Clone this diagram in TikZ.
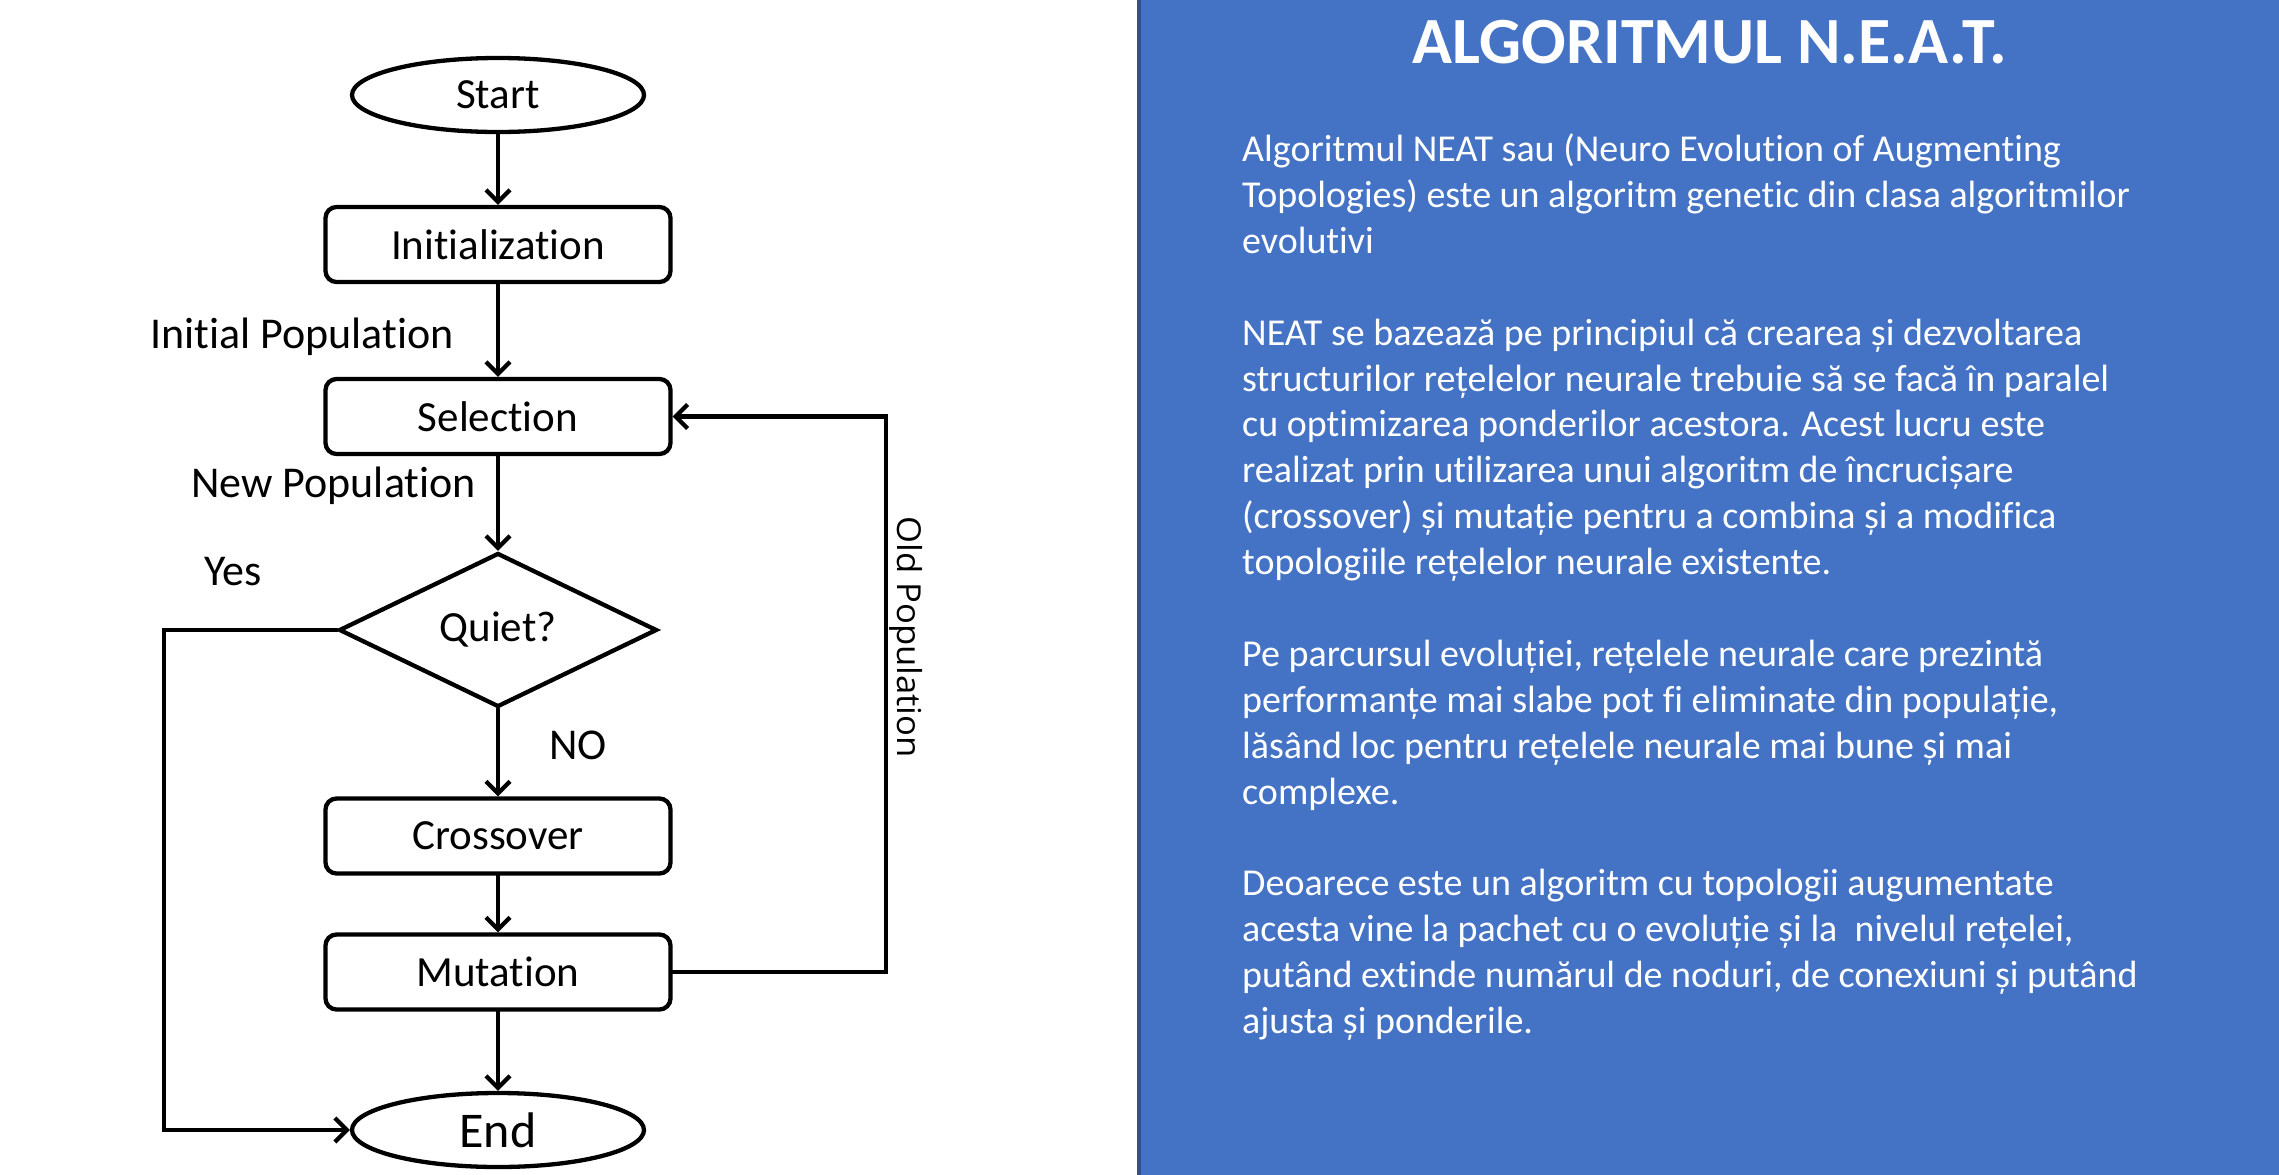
\documentclass[tikz,border=0pt]{standalone}
\usepackage{fontspec}
\usepackage{graphicx}
\setmainfont{Carlito}[Ligatures=NoCommon]
\newfontfamily\oldfont{Open Sans}
\usetikzlibrary{shapes.geometric,arrows.meta}
\definecolor{panelblue}{HTML}{4472C4}
\definecolor{paneledge}{HTML}{2F528F}
\tikzset{
  flow/.style={draw=black, line width=4.3pt, font=\fontsize{43}{50}\selectfont, inner sep=0pt},
  term/.style={flow, ellipse, minimum width=292pt, minimum height=74pt},
  procbox/.style={flow, rectangle, rounded corners=11pt, minimum width=345pt, minimum height=75pt},
  decision/.style={flow, diamond, aspect=2, minimum width=318pt, minimum height=154pt},
  lbl/.style={font=\fontsize{44}{50}\selectfont, inner sep=0pt},
  conn/.style={line width=4.3pt, line cap=round, line join=miter, -{Straight Barb[length=12pt,width=24pt,line width=4.3pt]}},
  body/.style={anchor=base west, inner sep=0pt, text=white, font=\fontsize{38}{45.9}\selectfont},
  titlestyle/.style={anchor=base, inner sep=0pt, text=white, font=\fontsize{66}{70}\selectfont\bfseries}
}
\begin{document}
\begin{tikzpicture}[x=1pt,y=-1pt]
\useasboundingbox (0,0) rectangle (2279,1175);
\fill[white] (0,0) rectangle (2279,1175);
% right panel
\fill[panelblue] (1138,0) rectangle (2279,1175);
\fill[paneledge] (1137,0) rectangle (1141,1175);

% flowchart nodes
\node[term] (start) at (498,95) {Start};
\node[procbox] (init) at (498,244.5) {Initialization};
\node[procbox] (sel) at (498,416.5) {Selection};
\node[decision] (quiet) at (498,630) {Quiet?};
\node[procbox] (cross) at (498,836) {Crossover};
\node[procbox] (mut) at (498,972) {Mutation};
\node[term, font=\fontsize{50}{56}\selectfont] (end) at (498,1130) {End};

% labels
\node[lbl] (lip) at (302,337) {Initial Population};
\node[lbl] (lnp) at (333.5,486) {New Population};
\node[lbl] (lyes) at (233,572) {Yes};
\node[lbl] (lno) at (578,745) {NO};
\node[inner sep=0pt, rotate=-90, font=\oldfont\fontsize{33}{38}\selectfont] (lold) at (906,637) {\scalebox{1.05}[1]{Old Population}};

% connectors
\coordinate (yesc) at (164,630);
\coordinate (oldc) at (886,972);
\draw[conn] (start) -- (init);
\draw[conn] (init) -- (sel);
\draw[conn] (sel) -- (quiet);
\draw[conn] (quiet) -- (cross);
\draw[conn] (cross) -- (mut);
\draw[conn] (mut) -- (end);
\draw[conn] (quiet.west) -- (yesc) |- (end.west);
\draw[conn] (mut.east) -- (oldc) |- (sel.east);

% right panel text
\node[titlestyle] (title) at (1710,63) {ALGORITMUL N.E.A.T.};
\node[body] (t1) at (1242,161.5) {Algoritmul NEAT sau (Neuro Evolution of Augmenting};
\node[body] (t2) at (1242,207.4) {Topologies) este un algoritm genetic din clasa algoritmilor};
\node[body] (t3) at (1242,253.3) {evolutivi};
\node[body] (t4) at (1242,345.1) {NEAT se bazează pe principiul că crearea și dezvoltarea};
\node[body] (t5) at (1242,391.0) {structurilor rețelelor neurale trebuie să se facă în paralel};
\node[body] (t6) at (1242,436.9) {cu optimizarea ponderilor acestora. Acest lucru este};
\node[body] (t7) at (1242,482.8) {realizat prin utilizarea unui algoritm de încrucișare};
\node[body] (t8) at (1242,528.7) {(crossover) și mutație pentru a combina și a modifica};
\node[body] (t9) at (1242,574.6) {topologiile rețelelor neurale existente.};
\node[body] (t10) at (1242,666.4) {Pe parcursul evoluției, rețelele neurale care prezintă};
\node[body] (t11) at (1242,712.3) {performanțe mai slabe pot fi eliminate din populație,};
\node[body] (t12) at (1242,758.2) {lăsând loc pentru rețelele neurale mai bune și mai};
\node[body] (t13) at (1242,804.1) {complexe.};
\node[body] (t14) at (1242,895.9) {Deoarece este un algoritm cu topologii augumentate};
\node[body] (t15) at (1242,941.8) {acesta vine la pachet cu o evoluție și la~ nivelul rețelei,};
\node[body] (t16) at (1242,987.7) {putând extinde numărul de noduri, de conexiuni și putând};
\node[body] (t17) at (1242,1033.6) {ajusta și ponderile.};
\end{tikzpicture}
\end{document}
